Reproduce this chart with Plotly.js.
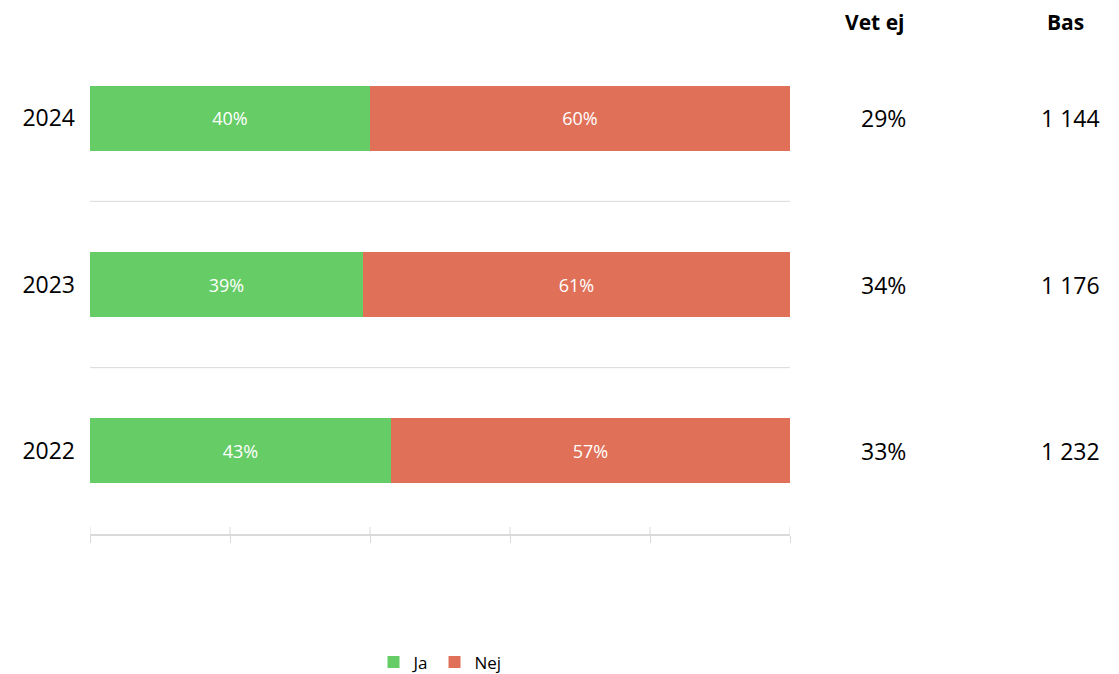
<!DOCTYPE html>
<html><head><meta charset="utf-8">
<script src="https://cdn.plot.ly/plotly-3.0.1.min.js"></script>
<style>html,body{margin:0;padding:0;background:#fff}#c{width:1119px;height:674px}</style>
</head><body><div id="c"></div>
<script>
var years = ["2022", "2023", "2024"];
var ja = [43, 39, 40];
var nej = [57, 61, 60];
var vetEj = ["33%", "34%", "29%"];
var bas = ["1 232", "1 176", "1 144"];
var xTicks = [0, 20, 40, 60, 80, 100];

var FONT = "Open Sans, sans-serif";
var traces = [
  {type:"bar", orientation:"h", name:"Ja", y:years, x:ja, marker:{color:"#66CC66"},
   text:ja.map(function(v){return v+"%";}), textposition:"inside", insidetextanchor:"middle",
   textfont:{color:"#ffffff", size:18, family:FONT}, hoverinfo:"none"},
  {type:"bar", orientation:"h", name:"Nej", y:years, x:nej, marker:{color:"#E07057"},
   text:nej.map(function(v){return v+"%";}), textposition:"inside", insidetextanchor:"middle",
   textfont:{color:"#ffffff", size:18, family:FONT}, hoverinfo:"none"}
];

var annotations = [];
annotations.push({xref:"paper", yref:"paper", x:1.121, y:1.026, text:"<b>Vet ej</b>", showarrow:false,
  font:{size:21, family:FONT, color:"#000"}, xanchor:"center", yanchor:"middle"});
annotations.push({xref:"paper", yref:"paper", x:1.393, y:1.026, text:"<b>Bas</b>", showarrow:false,
  font:{size:21, family:FONT, color:"#000"}, xanchor:"center", yanchor:"middle"});
years.forEach(function(yr, i){
  annotations.push({xref:"paper", yref:"y", x:1.133, y:i, text:vetEj[i], showarrow:false,
    font:{size:23, family:FONT, color:"#000"}, xanchor:"center", yanchor:"middle"});
  annotations.push({xref:"paper", yref:"y", x:1.401, y:i, text:bas[i], showarrow:false,
    font:{size:23, family:FONT, color:"#000"}, xanchor:"center", yanchor:"middle"});
});

var shapes = [];
for (var i = 1; i < years.length; i++) {
  shapes.push({type:"line", xref:"paper", yref:"y", x0:0, x1:1, y0:i-0.5, y1:i-0.5,
    line:{color:"#d9d9d9", width:1}, layer:"below"});
}
// upper half of the crossing tick marks on the x axis
xTicks.forEach(function(t){
  shapes.push({type:"line", xref:"x", yref:"paper", x0:t, x1:t, y0:0, y1:0.014,
    line:{color:"#d9d9d9", width:1}, layer:"below"});
});

var layout = {
  width:1119, height:674,
  margin:{l:90, r:329, t:35, b:140},
  paper_bgcolor:"#fff", plot_bgcolor:"#fff",
  barmode:"stack", bargap:0.61,
  font:{family:FONT, color:"#000"},
  xaxis:{range:[0,100], tickvals:xTicks, showticklabels:false, showgrid:false, zeroline:false,
    showline:true, linecolor:"#d9d9d9", linewidth:2, ticks:"outside", ticklen:7, tickcolor:"#d9d9d9", tickwidth:1, fixedrange:true},
  yaxis:{type:"category", categoryorder:"array", categoryarray:years, range:[-0.5, 2.5],
    showgrid:false, zeroline:false, showline:false, ticks:"", ticklabelstandoff:14,
    tickfont:{size:23, family:FONT, color:"#000"}, fixedrange:true},
  legend:{orientation:"h", x:0.5, xanchor:"center", xref:"paper", yref:"container", y:0.017, yanchor:"middle",
    font:{size:17, family:FONT, color:"#000"}, traceorder:"normal", itemwidth:30},
  annotations:annotations,
  shapes:shapes,
  showlegend:true
};

Plotly.newPlot("c", traces, layout, {displayModeBar:false, staticPlot:true});
</script></body></html>
